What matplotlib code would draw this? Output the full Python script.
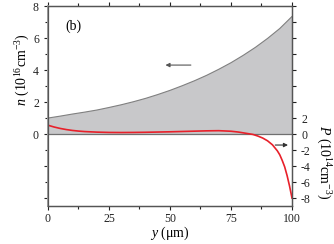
import numpy as np
import matplotlib
matplotlib.use("Agg")
import matplotlib.pyplot as plt
from matplotlib.ticker import MultipleLocator, FuncFormatter

plt.rcParams['font.family'] = ['Liberation Serif', 'DejaVu Serif']
plt.rcParams['mathtext.fontset'] = 'custom'
plt.rcParams['mathtext.rm'] = 'Liberation Serif'
plt.rcParams['mathtext.it'] = 'Liberation Serif:italic'

y_n = [0, 5, 10, 15, 20, 25, 30, 35, 40, 45, 50, 55, 60, 65, 70, 75, 80, 85, 90, 95, 100]
n_vals = [1.0, 1.12, 1.25, 1.37, 1.5, 1.66, 1.83, 2.02, 2.23, 2.47, 2.73, 3.02, 3.33,
          3.67, 4.05, 4.46, 4.92, 5.42, 5.98, 6.6, 7.35]

y_p = [0, 2.5, 5, 7.5, 10, 12.5, 15, 20, 25, 30, 35, 40, 45, 50, 55, 60, 65, 70, 75,
       78, 81, 84, 86, 88, 90, 92, 94, 95, 96, 97, 98, 99, 100]
p_vals = [1.1, 0.88, 0.7, 0.56, 0.45, 0.37, 0.31, 0.24, 0.2, 0.19, 0.2, 0.22, 0.25,
          0.28, 0.32, 0.36, 0.4, 0.42, 0.35, 0.25, 0.1, -0.05, -0.25, -0.5, -0.85,
          -1.35, -2.1, -2.6, -3.3, -4.1, -5.2, -6.5, -8.0]

edge = '#555555'

fig = plt.figure(figsize=(3.34, 2.44), dpi=100)
ax = fig.add_axes([0.1437, 0.1557, 0.7305, 0.8193])
ax2 = ax.twinx()

ax.fill_between(y_n, n_vals, 0, color='#c8c8ca', edgecolor='none', zorder=1)
ax.plot(y_n, n_vals, color='#808080', lw=0.8, zorder=2)
ax.axhline(0, color='#707070', lw=0.9, zorder=2)

ax2.plot(y_p, p_vals, color='#e8202a', lw=1.2)

ax.set_xlim(0, 100)
ax.set_ylim(-4.5, 8)
ax2.set_ylim(-9, 16)

ax.xaxis.set_major_locator(MultipleLocator(25))
ax.xaxis.set_minor_locator(MultipleLocator(12.5))
ax.yaxis.set_major_locator(MultipleLocator(2))
ax.yaxis.set_minor_locator(MultipleLocator(1))
ax.yaxis.set_major_formatter(FuncFormatter(lambda v, p: '%d' % v if v >= 0 else ''))
ax2.yaxis.set_major_locator(MultipleLocator(2))
ax2.yaxis.set_major_formatter(FuncFormatter(lambda v, p: '%d' % v if v <= 2 else ''))

ax.tick_params(axis='both', which='both', direction='out', labelsize=8.5, colors='#222222',
               top=True, length=3, width=0.8)
ax.tick_params(axis='x', which='major', pad=2)
ax.tick_params(axis='x', which='minor', length=2)
ax.tick_params(axis='y', which='minor', length=2)
ax2.tick_params(axis='y', direction='out', labelsize=8.5, length=3, width=0.8, colors='#222222')

for a in (ax, ax2):
    for s in a.spines.values():
        s.set_color(edge)
        s.set_linewidth(0.9)
ax.spines['left'].set_color('#a0a0a0')
ax.spines['left'].set_linewidth(1.4)

ax.set_xlabel(r'$\mathit{y}$ ($\mathrm{\mu}$m)', fontsize=10, labelpad=0)
ax.set_ylabel(r'$\mathit{n}$ (10$^{16}$cm$^{-3}$)', fontsize=10, labelpad=1)
ax.yaxis.set_label_coords(-0.065, 0.68)
ax2.set_ylabel(r'$\mathit{P}$ (10$^{14}$cm$^{-3}$)', fontsize=10, rotation=-90, labelpad=10)
ax2.yaxis.set_label_coords(1.165, 0.22)

ax.text(0.07, 0.88, '(b)', transform=ax.transAxes, fontsize=10)

ax.annotate('', xy=(0.47, 0.705), xytext=(0.597, 0.705), xycoords='axes fraction',
            arrowprops=dict(arrowstyle='-|>', color='#555555', lw=0.8, mutation_scale=6))
ax.annotate('', xy=(0.995, 0.305), xytext=(0.92, 0.305), xycoords='axes fraction',
            arrowprops=dict(arrowstyle='-|>', color='#333333', lw=0.8, mutation_scale=6))

fig.savefig('out.png', dpi=100)
